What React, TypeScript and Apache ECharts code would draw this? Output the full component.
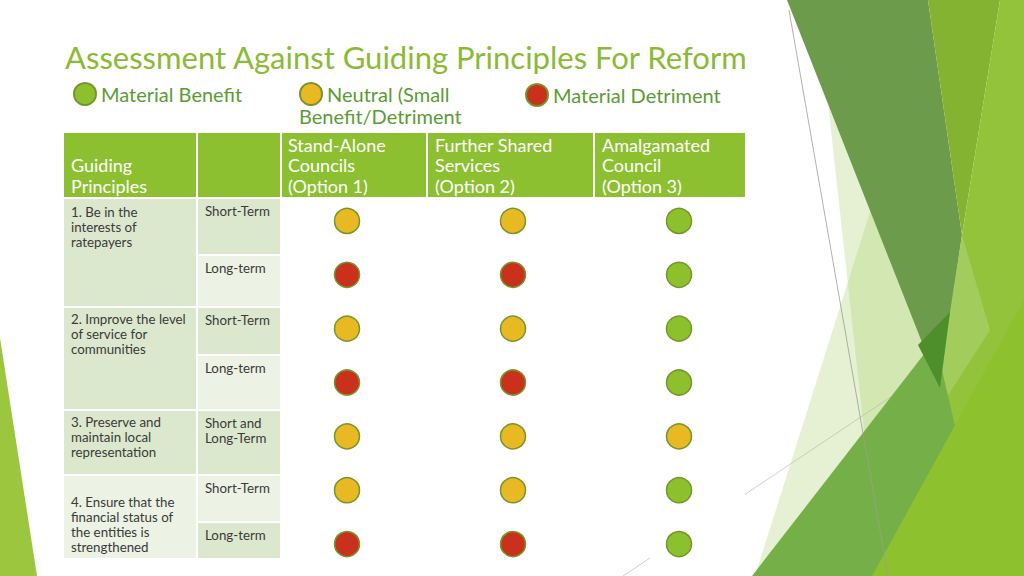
import React, { useEffect, useRef } from 'react';
import * as echarts from 'echarts';

// ---------- data ----------
const TITLE = 'Assessment Against Guiding Principles For Reform';
const optionKeys = ['Option 1', 'Option 2', 'Option 3'];
const optionHeaders = [
  ['Stand-Alone', 'Councils', '(Option 1)'],
  ['Further Shared', 'Services', '(Option 2)'],
  ['Amalgamated', 'Council', '(Option 3)'],
];
const principleHeader = ['Guiding', 'Principles'];
const principles = [
  ['1. Be in the', 'interests of', 'ratepayers'],
  ['2. Improve the level', 'of service for', 'communities'],
  ['3. Preserve and', 'maintain local', 'representation'],
  ['4. Ensure that the', 'financial status of', 'the entities is', 'strengthened'],
];
const principleRowSpan = [2, 2, 1, 2];
const terms = [
  ['Short-Term'],
  ['Long-term'],
  ['Short-Term'],
  ['Long-term'],
  ['Short and', 'Long-Term'],
  ['Short-Term'],
  ['Long-term'],
];
const rowKeys = ['P1 short', 'P1 long', 'P2 short', 'P2 long', 'P3 both', 'P4 short', 'P4 long'];
// B = Material Benefit, N = Neutral, D = Material Detriment
const ratingOption1 = ['N', 'D', 'N', 'D', 'N', 'N', 'D'];
const ratingOption2 = ['N', 'D', 'N', 'D', 'N', 'N', 'D'];
const ratingOption3 = ['B', 'B', 'B', 'B', 'N', 'B', 'B'];
const ratingCodes = ['B', 'N', 'D'];
const ratingNames = ['Material Benefit', 'Neutral (Small Benefit/Detriment', 'Material Detriment'];
const legendFirstLines = ['Material Benefit', 'Neutral (Small', 'Material Detriment'];
const legendSecondLine = 'Benefit/Detriment';

// ---------- style / layout ----------
const FONT = 'Lato, "Open Sans", "Liberation Sans", sans-serif';
const fills = ['#8cc12d', '#e8b923', '#c9311c'];
const HEADER_GREEN = '#8dc030';
const BAND_DARK = '#dce8cd';
const BAND_LIGHT = '#ecf2e4';
const colX = [64, 198, 282, 428, 595];
const colW = [132, 82, 144, 165, 150];
const headerY = 133;
const headerH = 64;
const rowTop = [199, 256, 308, 356, 411, 476, 523];
const rowBottom = [254, 306, 354, 409, 474, 521, 558];
const principleTextTop = [204, 311, 414, 494];
const legendPos = [
  [73, 82],
  [299, 82],
  [525, 83],
];

function buildGraphic() {
  const g: any[] = [];
  const poly = (pts: number[][], fill: string, opacity = 1) =>
    g.push({ type: 'polygon', shape: { points: pts }, style: { fill, opacity }, silent: true });
  poly([[0, 338], [0, 576], [37, 576]], '#9cc63e');
  g.push({
    type: 'line',
    shape: { x1: 623, y1: 576, x2: 952, y2: 356 },
    style: { stroke: '#cfcfcf', lineWidth: 1 },
    silent: true,
  });
  poly([[907, 95], [755, 576], [975, 576]], '#a8cf6a', 0.3);
  poly([[828, 103], [880, 576], [942, 388]], '#a8cf6a', 0.3);
  poly([[787, 0], [928, 0], [962, 235], [940, 388]], '#6c9c4b');
  poly([[928, 0], [1000, 0], [962, 235]], '#84b332');
  poly([[1000, 0], [1024, 0], [1024, 576], [935, 420], [962, 235]], '#92c33b');
  poly([[962, 235], [990, 330], [945, 400], [938, 388]], '#a6cf66', 0.8);
  poly([[752, 576], [935, 340], [990, 576]], '#74b047');
  poly([[918, 345], [950, 312], [940, 388]], '#4f8f2b');
  poly([[872, 576], [1024, 300], [1024, 576]], '#8ec12e');
  g.push({
    type: 'line',
    shape: { x1: 789, y1: 10, x2: 888, y2: 576 },
    style: { stroke: '#9aa08f', lineWidth: 0.8 },
    silent: true,
  });

  // table header
  for (let c = 0; c < 5; c++) {
    g.push({
      type: 'rect',
      shape: { x: colX[c], y: headerY, width: colW[c], height: headerH },
      style: { fill: HEADER_GREEN },
    });
  }
  g.push({
    type: 'rect',
    shape: { x: colX[2], y: rowTop[0], width: colX[4] + colW[4] - colX[2], height: rowBottom[6] - rowTop[0] },
    style: { fill: '#ffffff' },
  });
  const textStyle = (text: string, size: number, fill: string, lh: number, weight: any = 'normal') => ({
    text,
    fill,
    fontSize: size,
    fontFamily: FONT,
    fontWeight: weight,
    lineHeight: lh,
    verticalAlign: 'top',
    align: 'left',
  });
  g.push({
    type: 'text',
    x: colX[0] + 7,
    y: 155,
    style: textStyle(principleHeader.join('\n'), 18, '#ffffff', 20.5),
  });
  optionHeaders.forEach((lines, i) => {
    g.push({
      type: 'text',
      x: colX[2 + i] + (i === 0 ? 6 : 7),
      y: 134.5,
      style: textStyle(lines.join('\n'), 18, '#ffffff', 20.5),
    });
  });

  terms.forEach((lines, r) => {
    g.push({
      type: 'rect',
      shape: { x: colX[1], y: rowTop[r], width: colW[1], height: rowBottom[r] - rowTop[r] },
      style: { fill: r % 2 === 0 ? BAND_DARK : BAND_LIGHT },
    });
    g.push({
      type: 'text',
      x: colX[1] + 7,
      y: rowTop[r] + 4,
      style: textStyle(lines.join('\n'), 13.3, '#3a3a3a', 15),
    });
  });
  let r0 = 0;
  principles.forEach((lines, p) => {
    const span = principleRowSpan[p];
    const top = rowTop[r0];
    const bottom = rowBottom[r0 + span - 1];
    g.push({
      type: 'rect',
      shape: { x: colX[0], y: top, width: colW[0], height: bottom - top },
      style: { fill: r0 % 2 === 0 ? BAND_DARK : BAND_LIGHT },
    });
    g.push({
      type: 'text',
      x: colX[0] + 7,
      y: principleTextTop[p],
      style: textStyle(lines.join('\n'), 13.3, '#3a3a3a', 15),
    });
    r0 += span;
  });

  g.push({
    type: 'text',
    x: 299,
    y: 106,
    style: textStyle(legendSecondLine, 20, '#5a9c33', 20),
  });
  return g;
}

function buildOption() {
  const ratings = [ratingOption1, ratingOption2, ratingOption3];
  const series = ratingCodes.map((code, k) => {
    const data: any[] = [];
    ratings.forEach((col, o) =>
      col.forEach((v, r) => {
        if (v === code) data.push([optionKeys[o], rowKeys[r]]);
      })
    );
    return {
      type: 'scatter',
      name: ratingNames[k],
      symbol: 'circle',
      symbolSize: 25,
      itemStyle: { color: fills[k], borderColor: '#76962a', borderWidth: 1.5, opacity: 1 },
      data,
      z: 5,
    };
  });
  return {
    animation: false,
    backgroundColor: '#ffffff',
    title: {
      text: TITLE,
      left: 65,
      top: 41,
      padding: 0,
      textStyle: { fontSize: 31, fontWeight: 'normal', color: '#8bba34', fontFamily: FONT },
    },
    grid: { left: 264, top: 194, width: 498, height: 377 },
    xAxis: { type: 'category', data: optionKeys, show: false },
    yAxis: { type: 'category', data: rowKeys, inverse: true, show: false },
    legend: ratingNames.map((name, k) => ({
      data: [name],
      left: legendPos[k][0],
      top: legendPos[k][1],
      padding: 0,
      icon: 'circle',
      itemWidth: 22,
      itemHeight: 22,
      selectedMode: false,
      formatter: () => legendFirstLines[k],
      textStyle: { fontSize: 20, lineHeight: 20, color: '#5a9c33', fontFamily: FONT },
    })),
    graphic: { elements: buildGraphic() },
    series,
  };
}

export default function App() {
  const ref = useRef<HTMLDivElement>(null);
  useEffect(() => {
    const chart = echarts.init(ref.current as HTMLDivElement, null, { renderer: 'svg' });
    chart.setOption(buildOption() as any);
    return () => chart.dispose();
  }, []);
  return (
    <div
      ref={ref}
      style={{ position: 'fixed', left: 0, top: 0, width: 1024, height: 576, background: '#ffffff' }}
    />
  );
}
